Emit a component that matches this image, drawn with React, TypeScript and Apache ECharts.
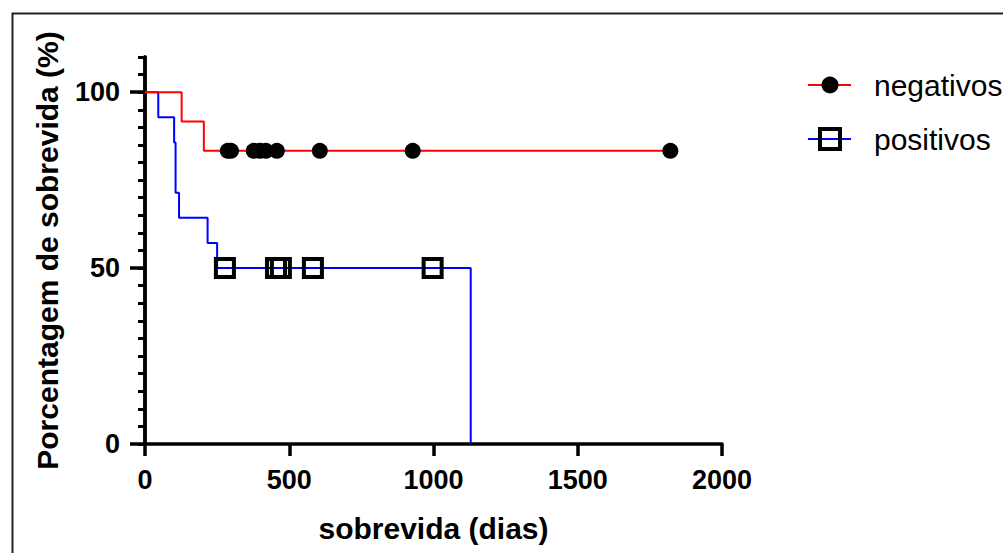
import React, { useEffect, useRef } from 'react';
import * as echarts from 'echarts';

const FONT = '"Liberation Sans", Arial, Helvetica, sans-serif';

const xTicks = [0, 500, 1000, 1500, 2000];
const yMajorTicks = [0, 50, 100];

const seriesNames = ['negativos', 'positivos'];

// Kaplan-Meier steps (days, % survival)
const negativosSteps: [number, number][] = [
  [0, 100],
  [127, 91.67],
  [204, 83.33],
  [1822, 83.33],
];
const negativosCensored: [number, number][] = [
  [287, 83.33],
  [298, 83.33],
  [377, 83.33],
  [398, 83.33],
  [419, 83.33],
  [457, 83.33],
  [606, 83.33],
  [928, 83.33],
  [1821, 83.33],
];

const positivosSteps: [number, number][] = [
  [0, 100],
  [46, 92.86],
  [101, 85.71],
  [106, 71.43],
  [118, 64.29],
  [217, 57.14],
  [250, 50],
  [1129, 0],
];
const positivosCensored: [number, number][] = [
  [277, 50],
  [454, 50],
  [471, 50],
  [582, 50],
  [997, 50],
];

export default function App() {
  const ref = useRef<HTMLDivElement>(null);

  useEffect(() => {
    if (!ref.current) return;
    const chart = echarts.init(ref.current, undefined, { renderer: 'svg' });

    const option: any = {
      animation: false,
      backgroundColor: '#ffffff',
      grid: {
        left: 145,
        right: 281,
        top: 57,
        bottom: 109,
        containLabel: false,
        outerBoundsMode: 'none',
      },
      xAxis: {
        type: 'value',
        min: xTicks[0],
        max: xTicks[xTicks.length - 1],
        interval: 500,
        name: 'sobrevida (dias)',
        nameLocation: 'middle',
        nameGap: 69,
        nameTextStyle: { fontSize: 30, fontWeight: 'bold', color: '#000', fontFamily: FONT },
        axisLine: { show: true, onZero: false, lineStyle: { color: '#000', width: 3.5 } },
        axisTick: { show: true, length: 12, lineStyle: { color: '#000', width: 3.5 } },
        axisLabel: {
          fontSize: 27,
          fontWeight: 'bold',
          color: '#000',
          fontFamily: FONT,
          margin: 22,
          formatter: (v: number) => String(v),
        },
        splitLine: { show: false },
      },
      yAxis: [
        {
          type: 'value',
          min: 0,
          max: 110,
          position: 'left',
          name: 'Porcentagem de sobrevida (%)',
          nameLocation: 'middle',
          nameGap: 83,
          nameRotate: 90,
          nameTextStyle: { fontSize: 30, fontWeight: 'bold', color: '#000', fontFamily: FONT },
          axisLine: { show: true, onZero: false, lineStyle: { color: '#000', width: 3.5 } },
          axisTick: { show: true, customValues: yMajorTicks, length: 15, lineStyle: { color: '#000', width: 3.5 } },
          axisLabel: {
            customValues: yMajorTicks,
            fontSize: 27,
            fontWeight: 'bold',
            color: '#000',
            fontFamily: FONT,
            margin: 25,
            formatter: (v: number) => String(v),
          },
          splitLine: { show: false },
        },
        {
          type: 'value',
          min: 0,
          max: 110,
          interval: 5,
          position: 'left',
          offset: 0,
          axisLine: { show: true, onZero: false, lineStyle: { color: '#000', width: 3.5 } },
          axisTick: { show: true, length: 7, lineStyle: { color: '#000', width: 3 } },
          axisLabel: { show: false },
          splitLine: { show: false },
        },
      ],
      series: [
        {
          name: seriesNames[1],
          type: 'line',
          step: 'end',
          data: positivosSteps,
          showSymbol: false,
          symbol: 'none',
          lineStyle: { color: '#0000ff', width: 2 },
          z: 2,
        },
        {
          name: seriesNames[0],
          type: 'line',
          step: 'end',
          data: negativosSteps,
          showSymbol: false,
          symbol: 'none',
          lineStyle: { color: '#ff0000', width: 2 },
          z: 3,
        },
        {
          name: seriesNames[0] + ' censurados',
          type: 'scatter',
          data: negativosCensored,
          symbol: 'circle',
          symbolSize: 16,
          itemStyle: { color: '#000', opacity: 1 },
          z: 4,
        },
        {
          name: seriesNames[1] + ' censurados',
          type: 'scatter',
          data: positivosCensored,
          symbol: 'rect',
          symbolSize: 18,
          itemStyle: { color: 'rgba(0,0,0,0)', borderColor: '#000', borderWidth: 4, opacity: 1 },
          z: 5,
        },
      ],
      graphic: [
        {
          type: 'rect',
          left: 10,
          top: 11,
          shape: { x: 0, y: 0, width: 1100, height: 700 },
          style: { fill: 'none', stroke: '#222', lineWidth: 2 },
          silent: true,
        },
        {
          type: 'line',
          shape: { x1: 808, y1: 85, x2: 851, y2: 85 },
          style: { stroke: '#ff0000', lineWidth: 2 },
        },
        {
          type: 'circle',
          shape: { cx: 830, cy: 85, r: 8.5 },
          style: { fill: '#000' },
        },
        {
          type: 'text',
          x: 874,
          y: 85,
          style: { text: seriesNames[0], fontSize: 30, fontFamily: FONT, fill: '#000', verticalAlign: 'middle' },
        },
        {
          type: 'line',
          shape: { x1: 808, y1: 139, x2: 851, y2: 139 },
          style: { stroke: '#0000ff', lineWidth: 2 },
        },
        {
          type: 'rect',
          shape: { x: 820, y: 129, width: 20, height: 20 },
          style: { fill: 'none', stroke: '#000', lineWidth: 4 },
        },
        {
          type: 'text',
          x: 874,
          y: 139,
          style: { text: seriesNames[1], fontSize: 30, fontFamily: FONT, fill: '#000', verticalAlign: 'middle' },
        },
      ],
    };

    chart.setOption(option);
    return () => chart.dispose();
  }, []);

  return (
    <div
      ref={ref}
      style={{ position: 'fixed', left: 0, top: 0, width: 1003, height: 553, background: '#fff' }}
    />
  );
}
